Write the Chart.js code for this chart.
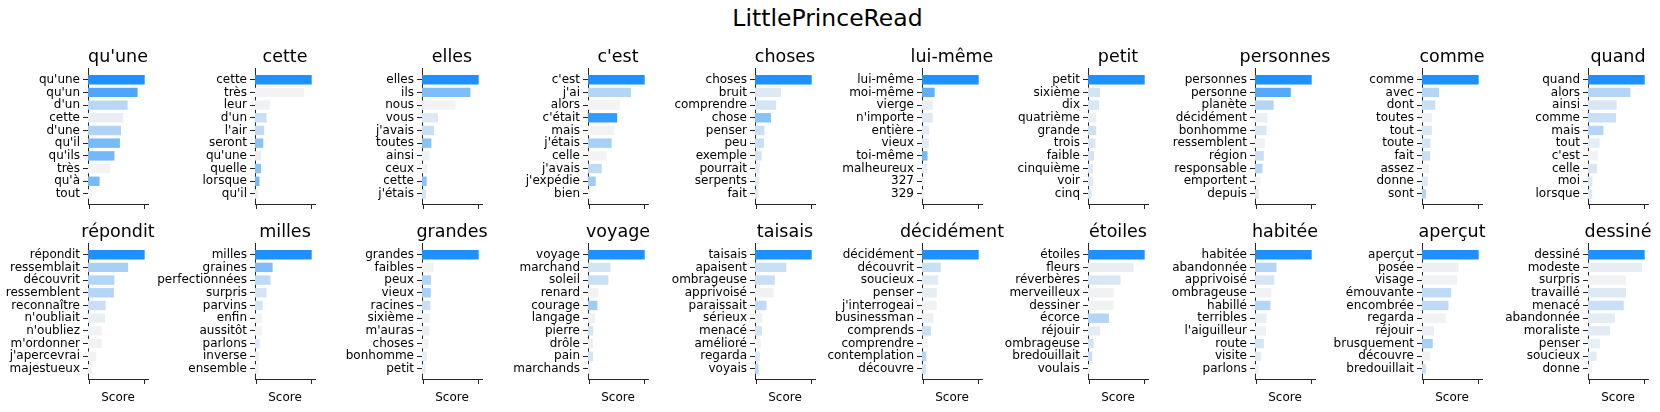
<!DOCTYPE html>
<html><head><meta charset="utf-8">
<script src="https://cdn.jsdelivr.net/npm/chart.js@4.4.1/dist/chart.umd.min.js"></script>
<style>
html,body{margin:0;padding:0;background:#fff;width:1660px;height:412px;overflow:hidden;position:relative;font-family:'DejaVu Sans';}
#title{position:absolute;left:0;width:1655px;text-align:center;top:6.8px;font-size:23.5px;line-height:23.5px;color:#000;white-space:nowrap;}
canvas{position:absolute;}
</style></head><body>
<div id="title"></div>
<script>
const figureTitle = "LittlePrinceRead";
const axisLabel = "Score";
const xTickValues = [0, 1];

const panelTitles = ["qu'une","cette","elles","c'est","choses","lui-même","petit","personnes","comme","quand",
  "répondit","milles","grandes","voyage","taisais","décidément","étoiles","habitée","aperçut","dessiné"];

const panelWords = [
  ["qu'une","qu'un","d'un","cette","d'une","qu'il","qu'ils","très","qu'à","tout"],
  ["cette","très","leur","d'un","l'air","seront","qu'une","quelle","lorsque","qu'il"],
  ["elles","ils","nous","vous","j'avais","toutes","ainsi","ceux","cette","j'étais"],
  ["c'est","j'ai","alors","c'était","mais","j'étais","celle","j'avais","j'expédie","bien"],
  ["choses","bruit","comprendre","chose","penser","peu","exemple","pourrait","serpents","fait"],
  ["lui-même","moi-même","vierge","n'importe","entière","vieux","toi-même","malheureux","327","329"],
  ["petit","sixième","dix","quatrième","grande","trois","faible","cinquième","voir","cinq"],
  ["personnes","personne","planète","décidément","bonhomme","ressemblent","région","responsable","emportent","depuis"],
  ["comme","avec","dont","toutes","tout","toute","fait","assez","donne","sont"],
  ["quand","alors","ainsi","comme","mais","tout","c'est","celle","moi","lorsque"],
  ["répondit","ressemblait","découvrit","ressemblent","reconnaître","n'oubliait","n'oubliez","m'ordonner","j'apercevrai","majestueux"],
  ["milles","graines","perfectionnées","surpris","parvins","enfin","aussitôt","parlons","inverse","ensemble"],
  ["grandes","faibles","peux","vieux","racines","sixième","m'auras","choses","bonhomme","petit"],
  ["voyage","marchand","soleil","renard","courage","langage","pierre","drôle","pain","marchands"],
  ["taisais","apaisent","ombrageuse","apprivoisé","paraissait","sérieux","menacé","amélioré","regarda","voyais"],
  ["décidément","découvrit","soucieux","penser","j'interrogeai","businessman","comprends","comprendre","contemplation","découvre"],
  ["étoiles","fleurs","réverbères","merveilleux","dessiner","écorce","réjouir","ombrageuse","bredouillait","voulais"],
  ["habitée","abandonnée","apprivoisé","ombrageuse","habillé","terribles","l'aiguilleur","route","visite","parlons"],
  ["aperçut","posée","visage","émouvante","encombrée","regarda","réjouir","brusquement","découvre","bredouillait"],
  ["dessiné","modeste","surpris","travaillé","menacé","abandonnée","moraliste","penser","soucieux","donne"]
];

const panelScores = [
  [1, 0.87, 0.69, 0.61, 0.57, 0.55, 0.45, 0.37, 0.18, 0.04],
  [1, 0.86, 0.24, 0.18, 0.135, 0.12, 0.08, 0.08, 0.05, 0.02],
  [1, 0.85, 0.58, 0.26, 0.19, 0.14, 0.11, 0.065, 0.055, 0.04],
  [1, 0.75, 0.55, 0.5, 0.45, 0.4, 0.31, 0.22, 0.11, 0.005],
  [1, 0.44, 0.35, 0.26, 0.14, 0.135, 0.09, 0.05, 0.04, 0.035],
  [1, 0.2, 0.165, 0.165, 0.1, 0.094, 0.07, 0.06, 0.018, 0.012],
  [1, 0.19, 0.17, 0.12, 0.12, 0.105, 0.08, 0.065, 0.065, 0.035],
  [1, 0.62, 0.31, 0.2, 0.18, 0.15, 0.13, 0.105, 0.07, 0.04],
  [1, 0.28, 0.21, 0.15, 0.15, 0.12, 0.12, 0.095, 0.075, 0.045],
  [1, 0.74, 0.49, 0.48, 0.25, 0.18, 0.15, 0.135, 0.05, 0.047],
  [1, 0.7, 0.45, 0.44, 0.29, 0.28, 0.22, 0.22, 0.12, 0.04],
  [1, 0.29, 0.25, 0.18, 0.11, 0.1, 0.1, 0.055, 0.047, 0.04],
  [1, 0.18, 0.135, 0.13, 0.12, 0.11, 0.105, 0.09, 0.06, 0.035],
  [1, 0.38, 0.34, 0.16, 0.14, 0.1, 0.065, 0.06, 0.06, 0.024],
  [1, 0.54, 0.33, 0.31, 0.18, 0.1, 0.095, 0.075, 0.06, 0.035],
  [1, 0.31, 0.265, 0.24, 0.235, 0.175, 0.135, 0.08, 0.047, 0.047],
  [1, 0.8, 0.56, 0.44, 0.435, 0.35, 0.19, 0.075, 0.047, 0.006],
  [1, 0.36, 0.32, 0.27, 0.25, 0.18, 0.17, 0.13, 0.076, 0.04],
  [1, 0.63, 0.61, 0.5, 0.45, 0.4, 0.19, 0.165, 0.12, 0.04],
  [1, 0.95, 0.66, 0.66, 0.62, 0.46, 0.37, 0.19, 0.125, 0.04]
];

const panelShades = [
  [1, 0.78, 0.28, 0.05, 0.32, 0.58, 0.6, 0, 0.58, 0],
  [1, 0, 0.02, 0.2, 0.25, 0.5, 0.05, 0.5, 0.6, 0.05],
  [1, 0.55, 0, 0.1, 0.2, 0.5, 0.02, 0.02, 0.5, 0.15],
  [1, 0.3, 0, 0.9, 0, 0.35, 0, 0.25, 0.4, 0],
  [1, 0.1, 0.15, 0.5, 0.2, 0.2, 0.15, 0.1, 0.08, 0.1],
  [1, 0.7, 0.05, 0.1, 0.08, 0.08, 0.6, 0.05, 0.02, 0.02],
  [1, 0.15, 0.12, 0.03, 0.18, 0.12, 0.15, 0.1, 0.08, 0.12],
  [1, 0.75, 0.3, 0.03, 0.12, 0.01, 0.2, 0.3, 0.01, 0.1],
  [1, 0.3, 0.2, 0.02, 0.12, 0.15, 0.2, 0.01, 0.1, 0.3],
  [1, 0.3, 0.12, 0.2, 0.3, 0.07, 0.01, 0.12, 0.1, 0.1],
  [1, 0.35, 0.3, 0.3, 0.2, 0.04, 0.01, 0.01, 0.01, 0.02],
  [1, 0.55, 0.25, 0.15, 0.15, 0.01, 0.01, 0.1, 0.03, 0.02],
  [1, 0, 0.3, 0.35, 0.2, 0.03, 0.05, 0.01, 0.05, 0.05],
  [1, 0.15, 0.2, 0.01, 0.4, 0.02, 0.15, 0.03, 0.15, 0.02],
  [1, 0.2, 0.2, 0.02, 0.25, 0.02, 0.15, 0.02, 0.1, 0.3],
  [1, 0.2, 0.08, 0.06, 0.01, 0.04, 0.2, 0.01, 0.3, 0.15],
  [1, 0.05, 0.12, 0.01, 0.01, 0.3, 0.07, 0.15, 0.2, 0.02],
  [1, 0.3, 0.13, 0.01, 0.3, 0.05, 0.02, 0.15, 0.08, 0.02],
  [1, 0.03, 0.01, 0.25, 0.25, 0.01, 0.05, 0.35, 0.02, 0.2],
  [1, 0.06, 0.01, 0.1, 0.2, 0.07, 0.08, 0.04, 0.08, 0.01]
];

document.getElementById('title').textContent = figureTitle;

Chart.defaults.font.family = "'DejaVu Sans'";
Chart.defaults.color = '#000';

const LOW = [243, 243, 243], HIGH = [30, 144, 255];
function shade(w) {
  return 'rgb(' + LOW.map((v, i) => Math.round(v + (HIGH[i] - v) * w)).join(',') + ')';
}

const X_MIN = -0.03, X_MAX = 1.06;
const LINE = '#262626';

panelTitles.forEach((title, p) => {
  const r = Math.floor(p / 10), c = p % 10;
  const words = panelWords[p];
  const scores = panelScores[p];
  const cv = document.createElement('canvas');
  cv.width = 300; cv.height = 198;
  cv.style.left = Math.round(88.3 + 166.67 * c - 120) + 'px';
  cv.style.top = (36 + 175 * r) + 'px';
  document.body.appendChild(cv);
  new Chart(cv, {
    type: 'bar',
    data: {
      datasets: [{
        data: scores.map((s, i) => ({ x: s, y: i })),
        backgroundColor: panelShades[p].map(shade),
        base: X_MIN,
        barPercentage: 0.74,
        categoryPercentage: 1,
        borderWidth: 0
      }]
    },
    options: {
      indexAxis: 'y',
      responsive: false,
      animation: false,
      events: [],
      layout: { padding: 0 },
      plugins: {
        legend: { display: false },
        tooltip: { enabled: false },
        title: {
          display: true, text: title, color: '#000',
          font: { size: 17.5, weight: 'normal', lineHeight: 1.2 },
          padding: { top: 10.6, bottom: 0.4 }
        }
      },
      scales: {
        x: {
          type: 'linear', position: 'bottom', min: X_MIN, max: X_MAX, offset: false,
          afterFit(s) { s.height = 30; },
          afterBuildTicks(s) { s.ticks = xTickValues.map(v => ({ value: v })); },
          ticks: { display: false },
          grid: { offset: false, drawOnChartArea: false, drawTicks: true, tickLength: 5, color: LINE, lineWidth: 1 },
          border: { display: true, color: LINE, width: 1 },
          title: {
            display: r === 1, text: axisLabel, color: '#000',
            font: { size: 12, lineHeight: 1.2 }, padding: { top: 0, bottom: 3.7 }
          }
        },
        y: {
          type: 'linear', min: -0.92, max: 9.79, reverse: true, offset: false,
          afterFit(s) { s.width = 120; },
          afterBuildTicks(s) { s.ticks = words.map((_, i) => ({ value: i })); },
          ticks: {
            autoSkip: false, padding: 3, color: '#000',
            font: { size: 12 },
            callback: (v) => words[Math.round(v)]
          },
          grid: { offset: false, drawOnChartArea: false, drawTicks: true, tickLength: 5, color: LINE, lineWidth: 1 },
          border: { display: true, color: LINE, width: 1 }
        },
        yRight: {
          type: 'linear', position: 'right', display: true,
          afterFit(s) { s.width = 120; },
          ticks: { display: false },
          grid: { display: false, drawTicks: false },
          border: { display: false }
        }
      }
    }
  });
});
</script>
</body></html>
